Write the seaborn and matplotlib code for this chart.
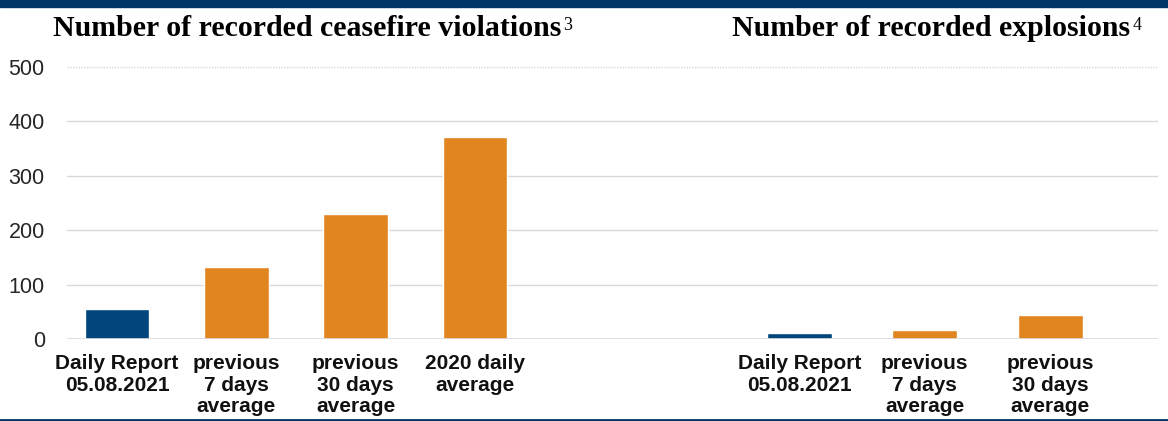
import matplotlib
matplotlib.use("Agg")
import matplotlib.pyplot as plt
import seaborn as sns
import pandas as pd
from matplotlib.patches import Rectangle
from matplotlib.lines import Line2D

# ---- data ----
cf_categories = ["Daily Report\n05.08.2021", "previous\n7 days\naverage",
                 "previous\n30 days\naverage", "2020 daily\naverage"]
cf_values = [55, 132, 229, 372]
ex_categories = ["Daily Report\n05.08.2021", "previous\n7 days\naverage",
                 "previous\n30 days\naverage"]
ex_values = [11, 16, 44]
y_ticks = [0, 100, 200, 300, 400, 500]
title_left = "Number of recorded ceasefire violations"
title_right = "Number of recorded explosions"
note_left = "3"
note_right = "4"

NAVY = "#00457C"
ORANGE = "#E0851F"
BAND = "#003366"
GRID = "#D9D9D9"

sns.set_theme(style="white")
plt.rcParams["font.family"] = ["Liberation Sans", "DejaVu Sans"]

fig = plt.figure(figsize=(11.68, 4.21), dpi=100)
W, H = 1168, 421
bottom = (H - 339) / H
top = (H - 67) / H
axL = fig.add_axes([67 / W, bottom, (600 - 67) / W, top - bottom])
axR = fig.add_axes([600 / W, bottom, (1158 - 600) / W, top - bottom])

dfL = pd.DataFrame({"cat": cf_categories, "val": cf_values})
dfR = pd.DataFrame({"cat": ex_categories, "val": ex_values})
palL = [NAVY] + [ORANGE] * (len(cf_categories) - 1)
palR = [NAVY] + [ORANGE] * (len(ex_categories) - 1)

sns.barplot(data=dfL, x="cat", y="val", hue="cat", palette=palL, legend=False,
            width=0.54, ax=axL, saturation=1, zorder=3)
sns.barplot(data=dfR, x="cat", y="val", hue="cat", palette=palR, legend=False,
            width=0.52, ax=axR, saturation=1, zorder=3)

axL.set_xlim(-0.42, 4.05)
axR.set_xlim(-1.59, 2.86)

for ax in (axL, axR):
    ax.set_ylim(0, 500)
    ax.set_yticks(y_ticks)
    ax.set_xlabel("")
    ax.set_ylabel("")
    for s in ax.spines.values():
        s.set_visible(False)
    for v in y_ticks[1:-1]:
        ax.axhline(v, color=GRID, lw=1.0, zorder=1)
    ax.axhline(500, color=GRID, lw=1.0, ls=(0, (1, 1)), zorder=1, clip_on=False)
    ax.axhline(0, color=GRID, lw=1.2, zorder=4)
    ax.tick_params(axis="x", length=0, pad=11, labelsize=15)
    for lbl in ax.get_xticklabels():
        lbl.set_fontweight("bold")
        lbl.set_color("#111111")
        lbl.set_linespacing(1.17)
    ax.patch.set_alpha(0)

axL.tick_params(axis="y", length=0, pad=16, labelsize=15.5, labelcolor="#262626")
axR.tick_params(axis="y", left=False, labelleft=False)

# titles
tL = fig.text(307 / W, 1 - 29 / H, title_left, ha="center", va="center",
              fontsize=21.5, fontweight="bold", family=["Liberation Serif"],
              color="black")
tR = fig.text(931 / W, 1 - 29 / H, title_right, ha="center", va="center",
              fontsize=21.5, fontweight="bold", family=["Liberation Serif"],
              color="black")

for t, n in ((tL, note_left), (tR, note_right)):
    fig.add_artist(matplotlib.text.Annotation(
        n, xy=(1.0, 0.95), xycoords=t, xytext=(1.5, 0),
        textcoords="offset points", ha="left", va="top",
        fontsize=13, family=["Liberation Serif"], color="black",
        annotation_clip=False))

# decorations: top band and bottom rule
fig.add_artist(Rectangle((0, 1 - 7 / H), 1, 7 / H, transform=fig.transFigure,
                         color=BAND, zorder=0))
fig.add_artist(Line2D([0, 1], [1.5 / H, 1.5 / H], transform=fig.transFigure,
                      color=BAND, lw=2))

fig.savefig("out.png", dpi=100)
